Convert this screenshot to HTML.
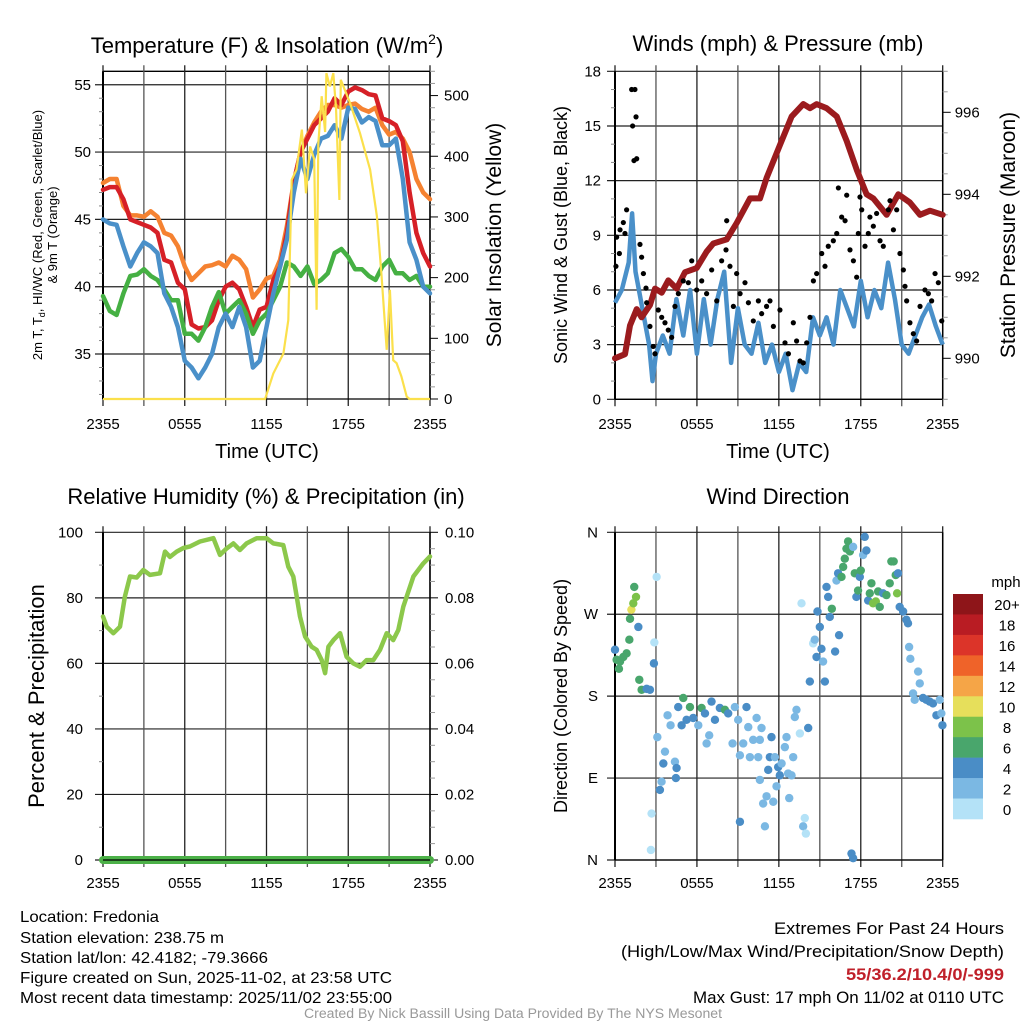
<!DOCTYPE html>
<html><head><meta charset="utf-8"><style>
html,body{margin:0;padding:0;background:#fff;}
svg{display:block;font-family:"Liberation Sans",sans-serif;}
</style></head><body>
<svg id="chart" width="1024" height="1024" viewBox="0 0 1024 1024" xmlns="http://www.w3.org/2000/svg">
<rect width="1024" height="1024" fill="#fff"/>
<g id="p1"></g>
<g id="p2"></g>
<g id="p3"></g>
<g id="p4"></g>
<g font-size="16" fill="#000">
<text x="20" y="922" textLength="139" lengthAdjust="spacingAndGlyphs">Location: Fredonia</text>
<text x="20" y="943" textLength="204" lengthAdjust="spacingAndGlyphs">Station elevation: 238.75 m</text>
<text x="20" y="963" textLength="248" lengthAdjust="spacingAndGlyphs">Station lat/lon: 42.4182; -79.3666</text>
<text x="20" y="983" textLength="372" lengthAdjust="spacingAndGlyphs">Figure created on Sun, 2025-11-02, at 23:58 UTC</text>
<text x="20" y="1003" textLength="372" lengthAdjust="spacingAndGlyphs">Most recent data timestamp: 2025/11/02 23:55:00</text>
</g>
<g font-size="17">
<text x="774" y="934" textLength="230" lengthAdjust="spacingAndGlyphs">Extremes For Past 24 Hours</text>
<text x="621" y="957" textLength="383" lengthAdjust="spacingAndGlyphs">(High/Low/Max Wind/Precipitation/Snow Depth)</text>
<text x="846" y="980" textLength="158" lengthAdjust="spacingAndGlyphs" fill="#c0202a" font-weight="bold">55/36.2/10.4/0/-999</text>
<text x="693" y="1003" textLength="311" lengthAdjust="spacingAndGlyphs">Max Gust: 17 mph On 11/02 at 0110 UTC</text>
</g>
<text x="304" y="1018" textLength="418" lengthAdjust="spacingAndGlyphs" font-size="13.5" fill="#999">Created By Nick Bassill Using Data Provided By The NYS Mesonet</text>
</svg>
<script>
// ---------- data ----------
const timeLabels = ["2355","0555","1155","1755","2355"];
const tHalf = [0,0.5,1,1.5,2,2.5,3,3.5,4,4.5,5,5.5,6,6.5,7,7.5,8,8.5,9,9.5,10,10.5,11,11.5,12,12.5,13,13.5,14,14.5,15,15.5,16,16.5,17,17.5,18,18.5,19,19.5,20,20.5,21,21.5,22,22.5,23,23.5,24];
const tempRed = [47.2,47.4,47.4,46.5,45.0,44.8,44.6,44.4,44.0,42.0,41.8,40.3,39.8,37.2,36.9,37.0,37.5,39.0,40.0,40.3,39.8,38.5,37.0,38.3,38.5,40.5,41.5,44.0,47.8,50.0,51.0,52.0,52.5,53.0,54.0,53.5,54.5,54.8,54.6,54.3,54.2,52.5,52.3,52.0,50.8,47.0,44.0,42.5,41.5];
const tempOrange = [47.7,48.0,48.0,46.0,45.3,45.3,45.2,45.6,45.2,44.0,43.8,43.0,41.5,40.5,41.0,41.5,41.6,41.8,41.5,42.3,42.0,41.3,39.2,39.8,40.6,40.8,42.0,44.5,47.8,50.0,51.2,52.2,53.0,53.5,53.5,53.3,53.5,53.6,53.2,53.0,53.3,52.0,51.3,51.5,51.0,50.0,48.0,47.0,46.5];
const tempBlue = [45.0,44.7,44.6,43.0,41.5,42.5,43.3,43.0,42.5,39.5,38.5,37.0,34.5,34.0,33.2,34.0,35.0,37.0,38.0,37.0,38.5,37.0,34.0,34.5,37.0,39.5,41.5,43.5,47.0,49.5,48.0,49.8,51.0,51.2,52.0,51.0,53.3,53.2,52.2,52.6,52.3,50.5,50.5,51.0,48.0,43.3,42.0,40.0,39.5];
const tempGreen = [39.3,38.2,37.9,39.5,40.8,40.9,41.3,40.8,40.5,39.8,39.0,39.0,36.5,36.5,36.0,37.0,38.5,39.6,38.0,38.5,39.0,38.0,36.5,37.5,38.0,39.0,40.0,41.8,41.5,40.8,41.5,40.2,40.5,41.0,42.5,42.8,42.2,41.3,41.3,40.8,40.5,41.5,42.0,41.0,41.0,40.5,40.8,40.0,40.0];
const solarT = [0,11.9,12.5,13.24,13.6,13.85,14.2,14.6,14.9,15.2,15.5,15.68,15.8,16.05,16.3,16.4,16.65,16.9,17.1,17.35,17.45,18.13,18.86,19.6,20.1,20.45,20.82,21.06,21.3,21.55,21.9,22.29,22.5,24];
const solarV = [0,0,42,75,130,361,378,444,339,416,395,147,420,499,440,537,515,537,480,328,526,488,438,378,301,202,81,180,64,59,37,4,0,0];
const presT = [0,0.73,1.1,1.59,1.95,2.56,2.93,3.42,3.9,4.52,5.13,5.98,6.71,7.2,8.18,8.91,9.89,10.62,11.1,12.08,12.94,13.79,14.28,14.77,15.5,16.24,16.97,17.7,18.43,18.92,19.9,20.75,21.6,22.34,23.07,24];
const presV = [990.0,990.1,990.8,991.2,991.0,991.3,991.7,991.6,991.9,991.7,992.1,992.2,992.6,992.8,992.9,993.3,993.9,993.9,994.4,995.2,995.9,996.2,996.1,996.2,996.1,995.9,995.3,994.6,994.0,993.9,993.5,994.0,993.8,993.5,993.6,993.5];
const windT = [0,0.5,1,1.25,1.5,2,2.5,2.75,3,3.5,4,4.5,5,5.5,6,6.5,7,7.5,8,8.5,9,9.5,10,10.5,11,11.5,12,12.5,13,13.5,14,14.5,15,15.5,16,16.5,17,17.5,18,18.5,19,19.5,20,20.5,21,21.5,22,22.5,23,23.5,24];
const windV = [5.3,6.0,7.5,10.2,7.0,5.0,3.0,1.0,2.5,3.5,2.5,5.5,3.5,6.0,2.5,5.5,3.0,5.5,7.0,2.0,5.0,3.0,2.5,4.2,2.0,3.0,1.5,2.5,0.5,2.0,1.5,4.5,3.5,4.5,3.0,6.0,5.0,4.0,6.5,4.5,6.0,5.0,7.5,5.5,3.0,2.5,3.5,4.5,5.2,4.0,3.0];
const gustT = [0.07,0.12,0.37,0.32,0.61,0.85,0.73,1.22,1.46,1.29,1.54,1.39,1.59,1.83,1.95,2.08,2.27,2.32,2.56,2.8,2.93,3.17,3.42,3.66,3.9,4.15,4.39,4.64,5.0,5.62,5.37,5.98,6.35,6.71,7.08,7.45,7.81,8.13,8.18,8.42,8.67,8.91,9.16,9.52,9.77,10.13,10.5,10.74,11.1,11.35,11.6,12.08,12.45,12.7,13.06,13.3,13.55,13.79,14.04,14.28,14.53,14.77,15.14,15.38,15.62,15.99,16.24,16.36,16.6,16.85,16.97,17.21,17.46,17.7,17.82,17.94,18.07,18.31,18.55,18.67,18.92,19.16,19.41,19.65,20.02,20.14,20.39,20.63,20.87,21.12,21.24,21.36,21.6,21.85,22.09,22.34,22.7,22.95,23.19,23.44,23.68,23.93];
const gustV = [7.3,8.9,9.3,8.0,9.7,10.4,9.1,17.0,17.0,15.0,15.5,13.1,13.2,8.5,7.8,6.9,6.1,5.3,4.0,2.9,2.5,4.9,4.5,4.2,3.8,3.4,5.1,5.8,6.5,7.6,6.4,6.0,6.5,5.8,7.1,5.4,7.6,8.2,9.8,7.3,5.1,6.9,5.8,6.4,5.3,4.3,5.4,4.7,5.1,5.4,4.0,4.9,3.1,2.5,4.2,3.2,2.1,2.0,3.1,4.5,6.5,6.9,8.0,7.3,8.4,8.7,9.1,11.6,10.0,9.8,11.2,8.2,7.6,6.7,9.1,11.1,10.4,8.4,9.1,10.0,9.5,10.2,8.7,8.4,10.4,10.9,9.3,10.4,8.0,7.1,6.2,5.4,4.2,3.6,3.2,5.1,6.0,5.8,5.4,6.9,6.4,4.3];
const rhT = [0,0.27,0.76,1.25,1.61,1.98,2.47,2.96,3.45,4.18,4.55,4.92,5.41,5.9,6.39,7.12,8.1,8.59,9.08,9.57,10.05,10.54,11.28,12.01,12.5,13.23,13.6,13.97,14.22,14.46,14.83,15.31,15.68,16.05,16.3,16.54,16.91,17.4,17.88,18.37,18.86,19.35,19.84,20.33,20.82,21.3,21.67,22.04,22.78,23.51,24];
const rhV = [74.3,71.2,69.2,71.2,80.4,86.5,86.2,88.5,87.0,87.5,94.1,92.5,94.1,95.2,95.7,97.2,98.2,93.1,95.1,96.6,94.6,96.6,98.2,98.2,96.6,96.1,89.5,86.5,80.4,74.3,68.2,65.1,64.1,61.0,57.0,65.1,67.1,69.2,62.0,60.0,59.0,61.0,61.0,64.1,69.2,67.1,70.2,77.3,86.5,90.5,92.6];
const precipT = [0,24];
const precipV = [0,0];
const dirT = [0,0.12,0.37,0.61,0.85,0.29,1.05,1.10,1.20,1.34,1.54,1.41,1.71,1.78,1.95,2.32,2.56,2.68,2.63,2.88,2.85,3.05,3.10,3.29,3.41,3.54,3.66,3.85,4.07,4.39,4.46,4.51,4.63,4.88,5.0,5.24,5.49,5.73,6.10,6.34,6.59,6.71,6.90,7.07,7.32,7.68,8.05,8.29,8.61,8.78,9.02,9.15,9.15,9.39,9.63,9.76,9.88,10.12,10.37,10.49,10.61,10.61,10.73,10.85,10.98,11.10,11.22,11.34,11.46,11.59,11.71,11.83,11.95,12.07,12.2,12.44,12.56,12.68,12.76,12.93,13.05,13.17,13.29,13.54,13.66,13.78,13.9,13.98,14.15,14.27,14.51,14.63,14.76,14.83,15.0,15.12,15.24,15.37,15.49,15.61,15.73,15.88,16.12,16.22,16.34,16.41,16.59,16.71,16.83,16.95,17.07,17.2,17.44,17.56,17.68,17.8,17.93,18.0,18.17,18.29,18.41,18.54,18.66,18.78,18.9,19.1,19.27,19.39,19.63,19.88,20.12,20.24,20.41,20.56,20.66,20.73,20.85,21.1,21.34,21.46,21.54,21.63,21.83,21.95,22.2,22.32,22.56,22.8,23.05,23.29,23.54,23.78,23.9,23.98,17.32,17.44];
const dirV = [231,220,218,223,227,210,242,265,275,282,289,300,256,198,187,188,187,51,11,239,216,311,135,77,86,106,119,159,148,108,90,101,168,148,178,154,168,156,148,167,161,128,137,174,154,167,165,161,128,168,154,115,42,128,168,146,113,132,156,113,132,88,145,62,37,70,99,113,135,64,113,81,102,93,106,124,135,95,68,93,113,157,165,139,282,37,46,29,145,196,238,242,223,273,256,232,218,196,300,289,267,276,229,307,315,247,311,322,331,342,350,339,344,315,289,296,311,318,335,355,340,285,293,304,282,284,295,278,293,291,304,328,328,313,293,315,278,273,264,260,234,221,183,176,207,194,178,176,174,172,159,176,161,148,7,2];
const dirS = [5,7,7,7,7,7,7,7,11,9,9,7,5,7,7,5,5,1,1,1,5,1,3,5,3,5,3,3,3,3,5,5,5,5,7,5,7,5,3,7,5,3,3,5,5,5,7,5,3,3,3,3,5,3,5,3,3,3,3,3,3,3,3,3,3,3,5,5,5,3,3,3,5,5,3,3,3,3,3,3,3,3,3,1,1,3,1,1,5,5,1,3,5,5,5,5,3,5,5,5,5,7,5,3,5,5,7,7,7,7,7,7,3,7,5,7,5,7,3,5,5,5,7,7,9,9,7,7,5,7,7,7,7,7,9,5,5,5,5,5,3,3,3,3,3,3,5,5,5,5,5,3,3,5,5,5];
const cbLabels = ["20+","18","16","14","12","10","8","6","4","2","0"];
const cbColors = ["#8e1519","#b91c23","#dc3429","#ef6329","#f5a547","#e6df5b","#7cc24a","#49a66c","#4a8dc6","#7bb8e3","#b4e2f7"];

// ---------- helpers ----------
const NS="http://www.w3.org/2000/svg";
function el(parent,tag,attrs){const e=document.createElementNS(NS,tag);for(const k in attrs)e.setAttribute(k,attrs[k]);parent.appendChild(e);return e;}
function lin(d0,d1,r0,r1){return v=>r0+(v-d0)/(d1-d0)*(r1-r0);}
function pathFrom(xs,ys,fx,fy){return xs.map((t,i)=>(i?"L":"M")+fx(t).toFixed(1)+","+fy(ys[i]).toFixed(1)).join("");}
function txt(parent,x,y,s,size,anchor,extra){const e=el(parent,"text",Object.assign({x:x,y:y,"font-size":size,"text-anchor":anchor||"middle"},extra||{}));e.textContent=s;return e;}

function frame(g,x0,x1,y0,y1,hTicks,fy,vTicksLabels,labelY){
  const fx=lin(0,24,x0,x1);
  hTicks.forEach(v=>{const y=fy(v);
    const l=el(g,"line",{x1:x0-8,x2:x1,y1:y,y2:y,stroke:"#222","stroke-width":1.2});
    
    
  });
  for(let h=0;h<=24;h+=3){const x=fx(h);
    const l=el(g,"line",{x1:x,x2:x,y1:y0-6,y2:y1+7,stroke:(h%6==0?"#222":"#555"),"stroke-width":1.3});
    
    
  }
  el(g,"line",{x1:x0,x2:x0,y1:y0,y2:y1,stroke:"#000","stroke-width":2});
  el(g,"line",{x1:x1,x2:x1,y1:y0,y2:y1,stroke:"#000","stroke-width":1.5});
  el(g,"line",{x1:x0,x2:x1,y1:y1,y2:y1,stroke:"#000","stroke-width":1.3});
  timeLabels.forEach((s,i)=>{const t=txt(g,fx(i*6),labelY,s,15);
    
    
  });
  return fx;
}

// ---------- Panel 1: temperature ----------
(function(){
  const g=document.getElementById("p1");
  const x0=103,x1=430,y0=71.3,y1=399;
  const fy=lin(31.66,56.0,y1,y0), fs=lin(0,540,y1,y0);
  el(g,"line",{x1:x0,x2:x1,y1:y0,y2:y0,stroke:"#000","stroke-width":1.3});
  const fx=frame(g,x0,x1,y0,y1,[35,40,45,50,55],fy,timeLabels,429);
  [35,40,45,50,55].forEach(v=>{const t=txt(g,x0-12,fy(v)+5,String(v),15,"end");
    
    });
  for(let v=32;v<56;v++){if(v%5)el(g,"line",{x1:x0-4,x2:x0,y1:fy(v),y2:fy(v),stroke:"#888"});}
  for(let v=0;v<=540;v+=20){const big=v%100==0;el(g,"line",{x1:x1,x2:x1+(big?8:5),y1:fs(v),y2:fs(v),stroke:big?"#000":"#999"});}
  [0,100,200,300,400,500].forEach(v=>{const t=txt(g,x1+14,fs(v)+5,String(v),15,"start");
    
    });
  const series=[[tempOrange,"#f58231","orange-9m-temp-line"],[tempRed,"#d62027","red-2m-temp-line"],[tempGreen,"#45b043","green-dewpoint-line"],[tempBlue,"#4a90c9","blue-hiwc-line"]];
  series.forEach(s=>{const p=el(g,"path",{d:pathFrom(tHalf,s[0],fx,fy),fill:"none",stroke:s[1],"stroke-width":4.5,"stroke-linejoin":"round","stroke-linecap":"round"});
    
    });
  const sp=el(g,"path",{d:pathFrom(solarT,solarV,fx,fs),fill:"none",stroke:"#fbe04b","stroke-width":2.2});
  
  
  const tt=txt(g,267,53,"",22); tt.innerHTML='Temperature (F) &amp; Insolation (W/m<tspan font-size="14" dy="-9">2</tspan><tspan dy="9">)</tspan>';
  
  const xl=txt(g,267,458,"Time (UTC)",20); 
  const yl=el(g,"text",{transform:"translate(42,235) rotate(-90)","font-size":13,"text-anchor":"middle"});
  yl.innerHTML='2m T, T<tspan font-size="9" dy="3">d</tspan><tspan dy="-3">, HI/WC (Red, Green, Scarlet/Blue)</tspan>';
  
  const yl2=txt(g,0,0,"& 9m T (Orange)",13); yl2.setAttribute("transform","translate(57,235) rotate(-90)");
  
  const yr=txt(g,0,0,"Solar Insolation (Yellow)",21); yr.setAttribute("transform","translate(501,235) rotate(-90)");
  
})();

// ---------- Panel 2: winds ----------
(function(){
  const g=document.getElementById("p2");
  const x0=615,x1=942.7,y0=71.3,y1=399.3;
  const fy=lin(0,18,y1,y0), fp=lin(989,997,y1,y0);
  const fx=frame(g,x0,x1,y0,y1,[0,3,6,9,12,15,18],fy,timeLabels,429);
  [0,3,6,9,12,15,18].forEach(v=>{const t=txt(g,x0-14,fy(v)+5,String(v),15,"end");
    });
  for(let v=1;v<18;v++){if(v%3)el(g,"line",{x1:x0-4,x2:x0,y1:fy(v),y2:fy(v),stroke:"#888"});}
  for(let v=989;v<=997;v+=0.5){const big=(v%2==0);el(g,"line",{x1:x1,x2:x1+(big?8:5),y1:fp(v),y2:fp(v),stroke:big?"#000":"#999"});}
  [990,992,994,996].forEach(v=>{const t=txt(g,x1+12,fp(v)+5,String(v),15,"start");
    });
  const w=el(g,"path",{d:pathFrom(windT,windV,fx,fy),fill:"none",stroke:"#4a90c9","stroke-width":4.5,"stroke-linejoin":"round"});
  
  const p=el(g,"path",{d:pathFrom(presT,presV,fx,fp),fill:"none",stroke:"#9b1b1e","stroke-width":6,"stroke-linejoin":"round","stroke-linecap":"round"});
  
  gustT.forEach((t,i)=>{const c=el(g,"circle",{cx:fx(t),cy:fy(gustV[i]),r:2.6,fill:"#000"});
    });
  const tt=txt(g,778,51,"Winds (mph) & Pressure (mb)",22);
  const xl=txt(g,778,458,"Time (UTC)",20);
  const yl=txt(g,0,0,"Sonic Wind & Gust (Blue, Black)",18);yl.setAttribute("transform","translate(567,235) rotate(-90)");
  
  const yr=txt(g,0,0,"Station Pressure (Maroon)",21);yr.setAttribute("transform","translate(1015,235) rotate(-90)");
  
})();

// ---------- Panel 3: RH ----------
(function(){
  const g=document.getElementById("p3");
  const x0=103,x1=430,y0=532.3,y1=860;
  const fy=lin(0,100,y1,y0), fq=lin(0,0.1,y1,y0);
  const fx=frame(g,x0,x1,y0,y1,[0,20,40,60,80,100],fy,timeLabels,888);
  [0,20,40,60,80,100].forEach(v=>{const t=txt(g,x0-20,fy(v)+5,String(v),15,"end");
    });
  for(let v=10;v<100;v+=20)el(g,"line",{x1:x0-4,x2:x0,y1:fy(v),y2:fy(v),stroke:"#888"});
  for(let i=0;i<=20;i++){const v=i*0.005,big=i%4==0;el(g,"line",{x1:x1,x2:x1+(big?8:5),y1:fq(v),y2:fq(v),stroke:big?"#000":"#999"});}
  [0,0.02,0.04,0.06,0.08,0.1].forEach(v=>{const t=txt(g,x1+15,fq(v)+5,v.toFixed(2),15,"start");
    });
  const pr=el(g,"path",{d:pathFrom(precipT,precipV,fx,fq),fill:"none",stroke:"#4cb148","stroke-width":8,"stroke-linecap":"round"});
  
  el(g,"line",{x1:x0,x2:x1,y1:y1,y2:y1,stroke:"#000","stroke-width":1.3});
  const rh=el(g,"path",{d:pathFrom(rhT,rhV,fx,fy),fill:"none",stroke:"#8cc84b","stroke-width":4.5,"stroke-linejoin":"round","stroke-linecap":"round"});
  
  const tt=txt(g,266,504,"Relative Humidity (%) & Precipitation (in)",22);
  const yl=txt(g,0,0,"Percent & Precipitation",22);yl.setAttribute("transform","translate(44,696) rotate(-90)");
  
})();

// ---------- Panel 4: wind direction ----------
(function(){
  const g=document.getElementById("p4");
  const x0=615,x1=942.7,y0=532.3,y1=860;
  const fy=lin(0,360,y1,y0);
  const fx=frame(g,x0,x1,y0,y1,[0,90,180,270,360],fy,timeLabels,888);
  [["N",0],["E",90],["S",180],["W",270],["N",360]].forEach(d=>{const t=txt(g,x0-17,fy(d[1])+5,d[0],15,"end");
    });
  function colorFor(s){const i=Math.min(10,Math.floor(s/2));return cbColors[10-i];}
  dirT.forEach((t,i)=>{const c=el(g,"circle",{cx:fx(t),cy:fy(dirV[i]),r:4.2,fill:colorFor(dirS[i])});
    });
  const bh=(819-594)/cbColors.length;
  cbColors.forEach((c,i)=>{const r=el(g,"rect",{x:953,y:594+i*bh,width:30,height:bh+0.3,fill:c});
    
    const t=txt(g,1007,594+i*bh+bh/2+6,cbLabels[i],15);
    });
  const u=txt(g,1006,587,"mph",15);
  const tt=txt(g,778,504,"Wind Direction",22);
  const yl=txt(g,0,0,"Direction (Colored By Speed)",18);yl.setAttribute("transform","translate(567,696) rotate(-90)");
  
})();
</script>
</body></html>
